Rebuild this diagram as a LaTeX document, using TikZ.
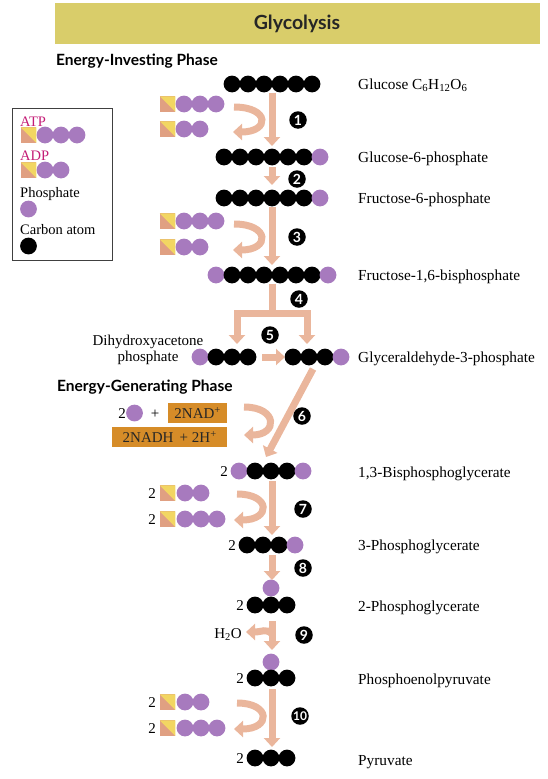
\documentclass[tikz,border=0pt]{standalone}
\usepackage{fontspec}
\setmainfont{Liberation Serif}
\newfontfamily\hsans{Lato}
\usetikzlibrary{arrows.meta}
\definecolor{purp}{RGB}{167,122,190}
\definecolor{salm}{RGB}{234,182,156}
\definecolor{sqs}{RGB}{224,160,130}
\definecolor{sqy}{RGB}{242,214,98}
\definecolor{barc}{RGB}{217,205,106}
\definecolor{nadbox}{RGB}{214,140,40}
\definecolor{mag}{RGB}{196,28,118}
\newcommand\molrow[4]{\foreach \c [count=\i] in {#4} {\node[atom,fill=\c] (#1-\i) at ({#2+16*(\i-1)},#3) {};}}
\begin{document}
\begin{tikzpicture}[x=1pt,y=-1pt,
  atom/.style={circle,minimum size=16.8pt,inner sep=0pt},
  adeno/.style={rectangle,fill=sqs,minimum size=15.5pt,inner sep=0pt,
    path picture={\fill[sqy] (path picture bounding box.north west) -- (path picture bounding box.north east) -- (path picture bounding box.south east) -- cycle;}},
  badge/.style={circle,fill=black,text=white,minimum size=17.5pt,inner sep=0pt,font=\hsans\bfseries\fontsize{14}{14}\selectfont},
  lbl/.style={anchor=base west,inner sep=0pt,font=\fontsize{15.3}{17}\selectfont},
  coef/.style={anchor=base east,inner sep=0pt,font=\fontsize{15}{17}\selectfont},
  phase/.style={anchor=base west,inner sep=0pt,font=\hsans\bfseries\fontsize{15.5}{17}\selectfont},
  leg/.style={anchor=base west,inner sep=0pt,font=\fontsize{14.5}{16}\selectfont},
  flow/.style={draw=salm,line width=7pt,-{Triangle[width=16pt,length=9pt]}},
  flowline/.style={draw=salm,line width=7pt},
  nad/.style={rectangle,fill=nadbox,inner sep=0pt,text=black!85,font=\fontsize{15}{17}\selectfont}
]
\useasboundingbox (0,0) rectangle (548,779);
% title bar
\node[rectangle,fill=barc,minimum width=485pt,minimum height=41pt,inner sep=0pt,anchor=north west] (title) at (55,3) {};
\node[font=\hsans\bfseries\fontsize{19.5}{20}\selectfont,anchor=base,inner sep=0pt,text=black!85] (titletxt) at (297,29) {Glycolysis};
\node[phase] (inv) at (56,65) {Energy-Investing Phase};
\node[phase] (gen) at (57,391) {Energy-Generating Phase};

% legend
\node[draw=black!75,line width=0.8pt,rectangle,minimum width=100pt,minimum height=152pt,anchor=north west,inner sep=0pt] (legend) at (12,108) {};
\node[leg,text=mag] (legatp) at (20,126) {ATP};
\node[adeno] (legatpsq) at (28.5,135) {};
\molrow{legatpp}{45}{135}{purp,purp,purp}
\node[leg,text=mag] (legadp) at (20,160) {ADP};
\node[adeno] (legadpsq) at (28.5,170) {};
\molrow{legadpp}{45}{170}{purp,purp}
\node[leg] (legpho) at (20,197) {Phosphate};
\node[atom,fill=purp] (legphoc) at (28.5,209) {};
\node[leg] (legcar) at (20,234) {Carbon atom};
\node[atom,fill=black] (legcarc) at (28.5,246) {};

% molecules
\molrow{glc}{232}{84}{black,black,black,black,black,black}
\node[lbl] (glclbl) at (358,89) {Glucose C\textsubscript{6}H\textsubscript{12}O\textsubscript{6}};
\molrow{gsp}{224}{157}{black,black,black,black,black,black,purp}
\node[lbl] (gsplbl) at (358,162) {Glucose-6-phosphate};
\molrow{fsp}{224}{198}{black,black,black,black,black,black,purp}
\node[lbl] (fsplbl) at (358,203) {Fructose-6-phosphate};
\molrow{fbp}{216}{275}{purp,black,black,black,black,black,black,purp}
\node[lbl] (fbplbl) at (358,280) {Fructose-1,6-bisphosphate};
\molrow{dhap}{200}{357}{purp,black,black,black}
\node[align=center,inner sep=0pt,font=\fontsize{15}{16}\selectfont,anchor=center] (dhaplbl) at (148,350) {Dihydroxyacetone\\phosphate};
\molrow{gap}{293}{357}{black,black,black,purp}
\node[lbl] (gaplbl) at (358,362) {Glyceraldehyde-3-phosphate};
\molrow{bpg}{239}{471}{purp,black,black,black,purp}
\node[coef] (bpgc) at (228,476) {2};
\node[lbl] (bpglbl) at (358,477) {1,3-Bisphosphoglycerate};
\molrow{tpg}{247}{545}{black,black,black,purp}
\node[coef] (tpgc) at (236,550) {2};
\node[lbl] (tpglbl) at (358,550) {3-Phosphoglycerate};
\node[atom,fill=purp] (dpgp) at (271,588) {};
\molrow{dpg}{255}{605}{black,black,black}
\node[coef] (dpgc) at (244,610) {2};
\node[lbl] (dpglbl) at (358,611) {2-Phosphoglycerate};
\node[atom,fill=purp] (pepp) at (271,662) {};
\molrow{pep}{255}{678}{black,black,black}
\node[coef] (pepc) at (244,683) {2};
\node[lbl] (peplbl) at (358,684) {Phosphoenolpyruvate};
\molrow{pyr}{255}{758}{black,black,black}
\node[coef] (pyrc) at (244,763) {2};
\node[lbl] (pyrlbl) at (358,765) {Pyruvate};

% step 1 cofactors
\node[adeno] (s1atp) at (167.5,104) {};
\molrow{s1atpp}{184}{104}{purp,purp,purp}
\node[adeno] (s1adp) at (167.5,129) {};
\molrow{s1adpp}{184}{129}{purp,purp}
% step 3 cofactors
\node[adeno] (s3atp) at (167.5,221) {};
\molrow{s3atpp}{184}{221}{purp,purp,purp}
\node[adeno] (s3adp) at (167.5,247) {};
\molrow{s3adpp}{184}{247}{purp,purp}
% step 6 cofactors
\node[coef] (s6c) at (126,418) {2};
\node[atom,fill=purp] (s6p) at (134.5,413) {};
\node[anchor=base,inner sep=0pt,font=\fontsize{15}{17}\selectfont] (s6plus) at (155,418) {+};
\node[nad,minimum width=59pt,minimum height=20pt,anchor=north west] (nad) at (168,403) {2NAD\textsuperscript{+}};
\node[nad,minimum width=115pt,minimum height=20pt,anchor=north west] (nadh) at (112,427) {2NADH\, + 2H\textsuperscript{+}};
% step 7 cofactors
\node[coef] (s7c1) at (156,498) {2};
\node[adeno] (s7adp) at (167.5,493) {};
\molrow{s7adpp}{185}{493}{purp,purp}
\node[coef] (s7c2) at (156,524) {2};
\node[adeno] (s7atp) at (167.5,519) {};
\molrow{s7atpp}{185}{519}{purp,purp,purp}
% step 10 cofactors
\node[coef] (s10c1) at (156,707) {2};
\node[adeno] (s10adp) at (167.5,702) {};
\molrow{s10adpp}{185}{702}{purp,purp}
\node[coef] (s10c2) at (156,733) {2};
\node[adeno] (s10atp) at (167.5,728) {};
\molrow{s10atpp}{185}{728}{purp,purp,purp}
\node[anchor=base east,inner sep=0pt,font=\fontsize{15}{17}\selectfont] (water) at (242,638) {H\textsubscript{2}O};

% arrows
\coordinate (a1t) at (272,93); \coordinate (a1b) at (272,146);
\draw[flow] (a1t) -- (a1b);
\coordinate (c1s) at (234,107); \coordinate (c1e) at (233,132);
\draw[flow] (c1s) .. controls (270,107) and (270,132) .. (c1e);
\coordinate (a2t) at (272,167); \coordinate (a2b) at (272,185);
\draw[flow] (a2t) -- (a2b);
\coordinate (a3t) at (272,207); \coordinate (a3b) at (272,265);
\draw[flow] (a3t) -- (a3b);
\coordinate (c3s) at (234,224); \coordinate (c3e) at (233,250);
\draw[flow] (c3s) .. controls (270,224) and (270,250) .. (c3e);
\coordinate (a4t) at (272,284); \coordinate (a4m) at (272,313);
\coordinate (a4l) at (237,313); \coordinate (a4r) at (307,313);
\coordinate (a4lb) at (237,344); \coordinate (a4rb) at (307,344);
\draw[flowline] (a4t) -- (a4m);
\draw[flow,{Triangle[width=16pt,length=9pt]}-{Triangle[width=16pt,length=9pt]},line join=miter] (a4lb) -- (a4l) -- (a4r) -- (a4rb);
\coordinate (a5l) at (262,357); \coordinate (a5r) at (285,357);
\draw[flow] (a5l) -- (a5r);
\coordinate (a6t) at (313,369); \coordinate (a6b) at (266,457);
\draw[flow] (a6t) -- (a6b);
\coordinate (c6s) at (244,407); \coordinate (c6e) at (244,435);
\draw[flow] (c6s) .. controls (278,407) and (278,435) .. (c6e);
\coordinate (a7t) at (272,481); \coordinate (a7b) at (272,535);
\draw[flow] (a7t) -- (a7b);
\coordinate (c7s) at (237,494); \coordinate (c7e) at (234,520);
\draw[flow] (c7s) .. controls (271,494) and (271,520) .. (c7e);
\coordinate (a8t) at (272,555); \coordinate (a8b) at (272,580);
\draw[flow] (a8t) -- (a8b);
\coordinate (a9t) at (272,621); \coordinate (a9b) at (272,650);
\draw[flow] (a9t) -- (a9b);
\coordinate (c9s) at (272,634); \coordinate (c9e) at (246,632);
\draw[flow] (c9s) .. controls (266,628) and (262,632) .. (c9e);
\coordinate (a10t) at (272,689); \coordinate (a10b) at (272,747);
\draw[flow] (a10t) -- (a10b);
\coordinate (c10s) at (237,703); \coordinate (c10e) at (234,729);
\draw[flow] (c10s) .. controls (271,703) and (271,729) .. (c10e);

% badges
\node[badge] (b1) at (298,120) {1};
\node[badge] (b2) at (297,179) {2};
\node[badge] (b3) at (297,237) {3};
\node[badge] (b4) at (299,299) {4};
\node[badge] (b5) at (270,335) {5};
\node[badge] (b6) at (302,416) {6};
\node[badge] (b7) at (303,509) {7};
\node[badge] (b8) at (303,568) {8};
\node[badge] (b9) at (304,635) {9};
\node[badge,font=\hsans\bfseries\fontsize{12}{12}\selectfont] (b10) at (300,716) {10};
\end{tikzpicture}
\end{document}
